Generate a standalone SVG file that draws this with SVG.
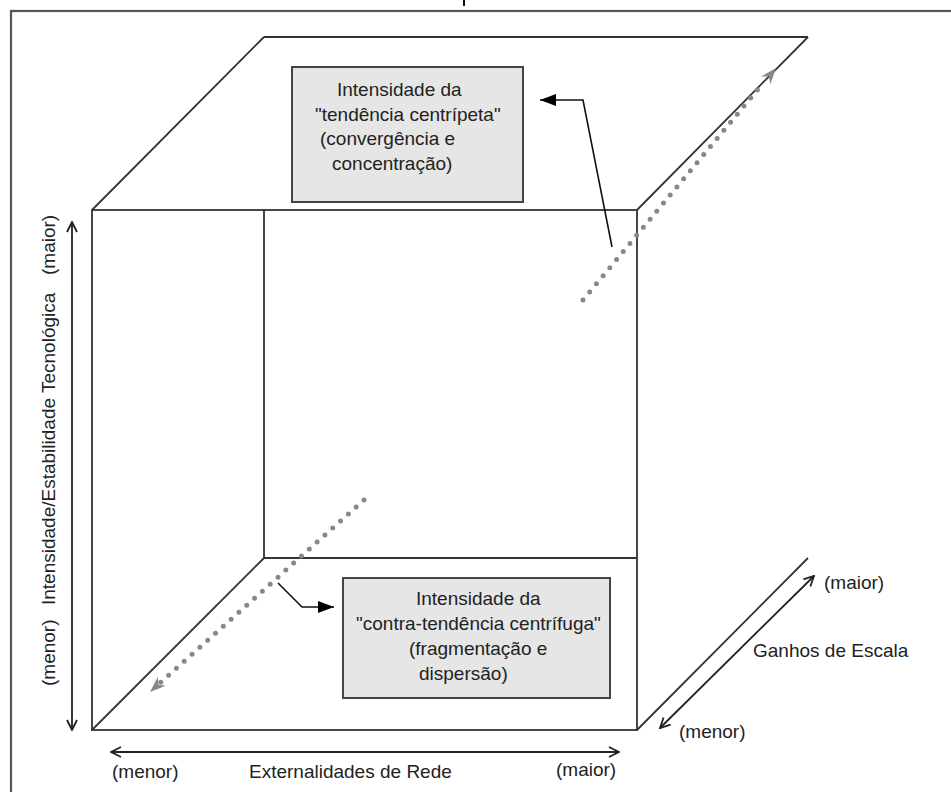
<svg xmlns="http://www.w3.org/2000/svg" width="951" height="792" viewBox="0 0 951 792">
<style>
text{font-family:"Liberation Sans",Arial,sans-serif;font-size:19px;fill:#222}
.cube{stroke:#333;stroke-width:1.8;fill:none}
.axis{stroke:#222;stroke-width:1.8;fill:none}
.conn{stroke:#111;stroke-width:1.6;fill:none}
.dots{stroke:#888;stroke-width:5;stroke-linecap:round;stroke-dasharray:0 10.5;fill:none}
.box{fill:#e6e6e6;stroke:#444;stroke-width:2}
.ghead{fill:#888}
</style>
<defs>
<marker id="openArrow" viewBox="0 0 12 12" refX="11" refY="6" markerWidth="12" markerHeight="12" markerUnits="userSpaceOnUse" orient="auto-start-reverse">
<path d="M1,1 L11,6 L1,11" fill="none" stroke="#222" stroke-width="1.8"/>
</marker>
<marker id="solidArrow" viewBox="0 0 16 12" refX="16" refY="6" markerWidth="16" markerHeight="12" markerUnits="userSpaceOnUse" orient="auto">
<path d="M0,0 L16,6 L0,12 z" fill="#000"/>
</marker>
</defs>
<rect width="951" height="792" fill="#fff"/>
<g id="frame">
<rect x="11" y="11" width="980" height="820" fill="none" stroke="#555" stroke-width="2.2"/>
<line x1="464" y1="0" x2="464" y2="6" stroke="#111" stroke-width="2"/>
</g>
<g id="cube">
<line class="cube" x1="264" y1="37" x2="808" y2="37"/>
<line class="cube" x1="92" y1="210" x2="264" y2="37"/>
<line class="cube" x1="637" y1="210" x2="808" y2="37"/>
<line class="cube" x1="264" y1="210" x2="264" y2="558"/>
<line class="cube" x1="264" y1="558" x2="637" y2="558"/>
<line class="cube" x1="92" y1="730" x2="264" y2="558"/>
<line class="cube" x1="637" y1="730" x2="808" y2="558"/>
<rect class="cube" x="92" y="210" width="545" height="520"/>
</g>
<g id="connectors">
<path class="dots" d="M583,300 L764,82"/>
<path class="ghead" transform="translate(776,68) rotate(-50.2)" d="M0,0 L-16,-6 L-11,0 L-16,6 z"/>
<path class="dots" d="M364,500 L160,683"/>
<path class="ghead" transform="translate(150,692) rotate(138.1)" d="M0,0 L-16,-6 L-11,0 L-16,6 z"/>
<polyline class="conn" points="612,247 583,100 540,100" marker-end="url(#solidArrow)"/>
<polyline class="conn" points="278,583 302,607 334,607" marker-end="url(#solidArrow)"/>
<line class="axis" x1="72" y1="222" x2="72" y2="730" marker-start="url(#openArrow)" marker-end="url(#openArrow)"/>
<line class="axis" x1="111" y1="752" x2="619" y2="752" marker-start="url(#openArrow)" marker-end="url(#openArrow)"/>
<line class="axis" x1="660" y1="728" x2="814" y2="576" marker-start="url(#openArrow)" marker-end="url(#openArrow)"/>
</g>
<g id="box-centripeta">
<rect class="box" x="292" y="67" width="231" height="135"/>
<text x="337" y="96">Intensidade da</text>
<text x="315" y="121">"tendência centrípeta"</text>
<text x="320" y="145">(convergência e</text>
<text x="332" y="170">concentração)</text>
</g>
<g id="box-centrifuga">
<rect class="box" x="343" y="578" width="267" height="120"/>
<text x="416" y="605">Intensidade da</text>
<text x="356" y="630">"contra-tendência centrífuga"</text>
<text x="409" y="655">(fragmentação e</text>
<text x="419" y="680">dispersão)</text>
</g>
<g id="axis-vertical">
<text transform="translate(55,275) rotate(-90)">(maior)</text>
<text transform="translate(55,605) rotate(-90)">Intensidade/Estabilidade Tecnológica</text>
<text transform="translate(55,686) rotate(-90)">(menor)</text>
</g>
<g id="axis-horizontal">
<text x="112" y="778">(menor)</text>
<text x="249" y="778">Externalidades de Rede</text>
<text x="556" y="776">(maior)</text>
</g>
<g id="axis-depth">
<text x="824" y="589">(maior)</text>
<text x="753" y="657">Ganhos de Escala</text>
<text x="679" y="738">(menor)</text>
</g>
</svg>
